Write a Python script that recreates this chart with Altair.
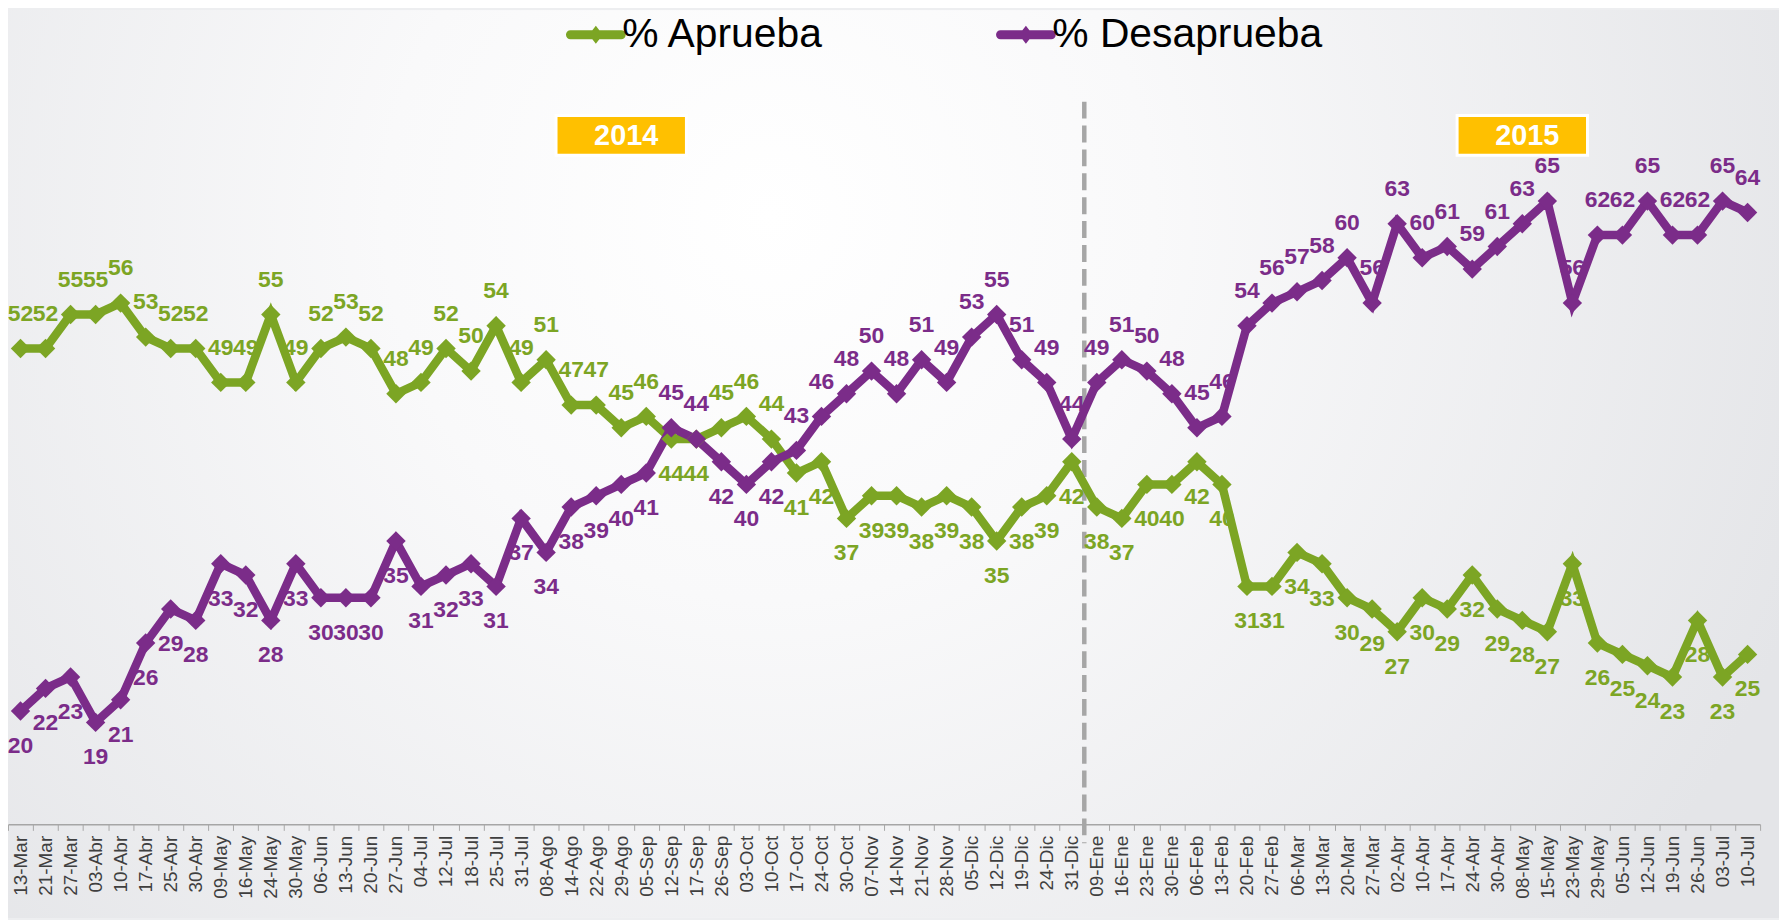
import altair as alt
import pandas as pd

# ---------------- data ----------------
fechas = ["13-Mar", "21-Mar", "27-Mar", "03-Abr", "10-Abr", "17-Abr", "25-Abr", "30-Abr",
          "09-May", "16-May", "24-May", "30-May", "06-Jun", "13-Jun", "20-Jun", "27-Jun",
          "04-Jul", "12-Jul", "18-Jul", "25-Jul", "31-Jul", "08-Ago", "14-Ago", "22-Ago",
          "29-Ago", "05-Sep", "12-Sep", "17-Sep", "26-Sep", "03-Oct", "10-Oct", "17-Oct",
          "24-Oct", "30-Oct", "07-Nov", "14-Nov", "21-Nov", "28-Nov", "05-Dic", "12-Dic",
          "19-Dic", "24-Dic", "31-Dic",
          "09-Ene", "16-Ene", "23-Ene", "30-Ene", "06-Feb", "13-Feb", "20-Feb", "27-Feb",
          "06-Mar", "13-Mar", "20-Mar", "27-Mar", "02-Abr", "10-Abr", "17-Abr", "24-Abr",
          "30-Abr", "08-May", "15-May", "23-May", "29-May", "05-Jun", "12-Jun", "19-Jun",
          "26-Jun", "03-Jul", "10-Jul"]

aprueba = [52, 52, 55, 55, 56, 53, 52, 52, 49, 49, 55, 49, 52, 53, 52, 48, 49, 52, 50, 54,
           49, 51, 47, 47, 45, 46, 44, 44, 45, 46, 44, 41, 42, 37, 39, 39, 38, 39, 38, 35,
           38, 39, 42,
           38, 37, 40, 40, 42, 40, 31, 31, 34, 33, 30, 29, 27, 30, 29, 32, 29, 28, 27, 33,
           26, 25, 24, 23, 28, 23, 25]

desaprueba = [20, 22, 23, 19, 21, 26, 29, 28, 33, 32, 28, 33, 30, 30, 30, 35, 31, 32, 33, 31,
              37, 34, 38, 39, 40, 41, 45, 44, 42, 40, 42, 43, 46, 48, 50, 48, 51, 49, 53, 55,
              51, 49, 44,
              49, 51, 50, 48, 45, 46, 54, 56, 57, 58, 60, 56, 63, 60, 61, 59, 61, 63, 65, 56,
              62, 62, 65, 62, 62, 65, 64]

series_names = ["% Aprueba", "% Desaprueba"]
series_colors = ["#7CA524", "#7B2C89"]

year_labels = ["2014", "2015"]
year_anchor_idx = [24, 60]       # category the year tag sits over
year_anchor_val = [70.8, 70.8]   # level (in %) of the year tag

last_2014_idx = 42               # 31-Dic : year separator after this category

# ---------------- tables ----------------
rows = []
for i in range(len(fechas)):
    a, d = aprueba[i], desaprueba[i]
    rows.append({"idx": i, "serie": series_names[0], "valor": a,
                 "pos": "above" if a > d else "below"})
    rows.append({"idx": i, "serie": series_names[1], "valor": d,
                 "pos": "above" if d >= a else "below"})
df = pd.DataFrame(rows)

years_df = pd.DataFrame({"idx": year_anchor_idx, "valor": year_anchor_val, "txt": year_labels})
sep_df = pd.DataFrame({"idx": [last_2014_idx]})
bg_df = pd.DataFrame({"k": [0]})

W, H = 1760, 683
FONT = "Liberation Sans"

label_js = "[" + ",".join("'%s'" % f for f in fechas) + "]"

xscale = alt.Scale(type="band", paddingInner=0, paddingOuter=0, domain=list(range(len(fechas))))
x_axis = alt.Axis(title=None, labelAngle=270, labelFontSize=19, labelColor="#3F3F3F",
                  labelFont=FONT, labelExpr=label_js + "[datum.value]", tickBand="extent",
                  domainColor="#A6A6A6", domainWidth=1.5, tickColor="#A6A6A6", tickSize=6,
                  labelPadding=5, grid=False, zindex=2)
x_enc = alt.X("idx:O", scale=xscale, axis=x_axis)
yscale = alt.Scale(domain=[10, 70], nice=False, zero=False)
y_enc = alt.Y("valor:Q", scale=yscale, axis=None)

cscale = alt.Scale(domain=series_names, range=series_colors)

legend_symbol = ("M-1.7,-0.3H-0.235L0,-0.6L0.235,-0.3H1.7A0.3,0.3 0 0 1 1.7,0.3"
                 "H0.235L0,0.6L-0.235,0.3H-1.7A0.3,0.3 0 0 1 -1.7,-0.3Z")
legend = alt.Legend(title=None, orient="none", direction="horizontal",
                    legendX=570, legendY=-131, padding=0,
                    symbolType=legend_symbol, symbolSize=900,
                    symbolStrokeWidth=0, symbolOpacity=1,
                    labelFont=FONT, labelFontSize=41, labelColor="#000000",
                    labelOffset=6, columnPadding=172, labelLimit=400, zindex=3)

# background radial glow
bg = alt.Chart(bg_df).mark_rect(
    fill={"gradient": "radial", "x1": 0.43, "y1": 0.36, "r1": 0.0,
          "x2": 0.43, "y2": 0.36, "r2": 0.62,
          "stops": [{"offset": 0, "color": "#FFFFFF"},
                    {"offset": 0.35, "color": "#F9F9FA"},
                    {"offset": 1, "color": "#E4E5E8"}]}
).encode(x=alt.value(0), x2=alt.value(W + 19), y=alt.value(-135), y2=alt.value(H + 94))

sep = alt.Chart(sep_df).mark_rule(color="#A6A6A6", strokeWidth=4.5, strokeDash=[17, 7]).encode(
    x=alt.X("idx:O", scale=xscale, axis=x_axis, bandPosition=1),
    y=alt.value(-43), y2=alt.value(H + 19))

lines = alt.Chart(df).mark_line(strokeWidth=8.5, strokeJoin="miter").encode(
    x=x_enc, y=y_enc, color=alt.Color("serie:N", scale=cscale, legend=legend))

points = alt.Chart(df).mark_point(shape="diamond", filled=True, size=380, opacity=1).encode(
    x=x_enc, y=y_enc, color=alt.Color("serie:N", scale=cscale, legend=legend))

txt_above = alt.Chart(df).transform_filter(alt.datum.pos == "above").mark_text(
    font=FONT, fontWeight="bold", fontSize=23, dy=-35, baseline="middle").encode(
    x=x_enc, y=y_enc, text=alt.Text("valor:Q"),
    color=alt.Color("serie:N", scale=cscale, legend=legend))

txt_below = alt.Chart(df).transform_filter(alt.datum.pos == "below").mark_text(
    font=FONT, fontWeight="bold", fontSize=23, dy=35, baseline="middle").encode(
    x=x_enc, y=y_enc, text=alt.Text("valor:Q"),
    color=alt.Color("serie:N", scale=cscale, legend=legend))

box_shape = "M-1,-0.3053H1V0.3053H-1Z"
year_box = alt.Chart(years_df).mark_point(
    shape=box_shape, size=17161, filled=True, fill="#FFC000", stroke="#FFFFFF",
    strokeWidth=3, opacity=1, dx=5).encode(x=x_enc, y=y_enc)
year_txt = alt.Chart(years_df).mark_text(
    font=FONT, fontWeight="bold", fontSize=29, color="#FFFFFF", dx=5, dy=1,
    baseline="middle").encode(x=x_enc, y=y_enc, text="txt:N")

chart = alt.layer(bg, sep, lines, points, txt_above, txt_below, year_box, year_txt).properties(
    width=W, height=H,
    autosize=alt.AutoSizeParams(type="none"),
    padding={"left": 0, "top": 135, "right": 19, "bottom": 94},
    background="#EDEEF0",
).configure_view(stroke=None)

chart.save("out.html", embed_options={"renderer": "svg", "actions": False})
